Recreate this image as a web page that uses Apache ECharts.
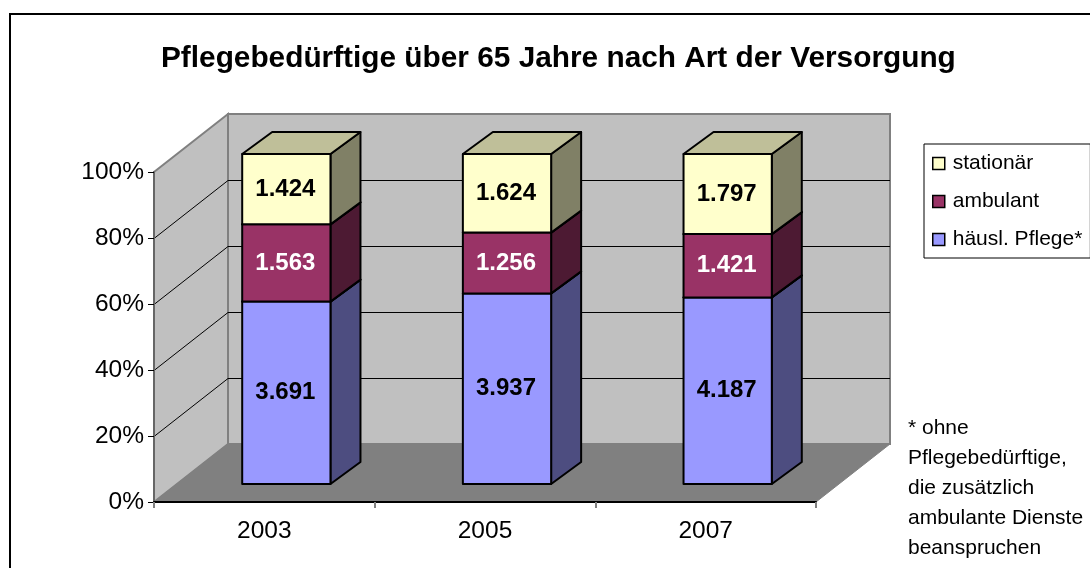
<!DOCTYPE html>
<html>
<head>
<meta charset="utf-8">
<style>
  html, body { margin: 0; padding: 0; background: #fff; }
  #chart { width: 1090px; height: 568px; }
</style>
<script src="https://cdn.jsdelivr.net/npm/echarts@6/dist/echarts.min.js"></script>
</head>
<body>
<div id="chart"></div>
<script>
const categories = ["2003", "2005", "2007"];
const haeuslPflege = [3691, 3937, 4187];
const ambulant = [1563, 1256, 1421];
const stationaer = [1424, 1624, 1797];
const yTicks = [0, 20, 40, 60, 80, 100];
const footnote = ["* ohne", "Pflegebedürftige,", "die zusätzlich", "ambulante Dienste", "beanspruchen"];

const FONT = "Liberation Sans";
// depth of the fake 3d box
const WALL_DX = 74, WALL_DY = -58;
const BAR_SHIFT_X = 22, BAR_SHIFT_Y = -18;
const BAR_DX = 30, BAR_DY = -22;

const totals = categories.map((c, i) => haeuslPflege[i] + ambulant[i] + stationaer[i]);

// [category index, start %, end %, raw value]
function stack(values, below) {
  return values.map((v, i) => {
    const base = below.reduce((s, arr) => s + arr[i], 0);
    return [i, base / totals[i] * 100, (base + v) / totals[i] * 100, v];
  });
}

function fmt(v) {
  return String(v).replace(/\B(?=(\d{3})+$)/g, ".");
}

function poly(points, fill) {
  return {
    type: "polygon",
    shape: { points },
    style: { fill, stroke: "#000", lineWidth: 2, lineJoin: "round" },
  };
}

function barSeries(name, data, colors, labelColor) {
  return {
    name,
    type: "custom",
    clip: false,
    z: 3,
    silent: true,
    data,
    encode: { x: 0, y: [1, 2] },
    itemStyle: { color: colors.front },
    renderItem(params, api) {
      const bw = api.size([1, 0])[0] * 0.4;
      const a = api.coord([api.value(0), api.value(1)]);
      const b = api.coord([api.value(0), api.value(2)]);
      const x0 = a[0] - bw / 2 + BAR_SHIFT_X;
      const x1 = x0 + bw;
      const y0 = a[1] + BAR_SHIFT_Y;
      const y1 = b[1] + BAR_SHIFT_Y;
      return {
        type: "group",
        children: [
          poly([[x1, y0], [x1 + BAR_DX, y0 + BAR_DY], [x1 + BAR_DX, y1 + BAR_DY], [x1, y1]], colors.side),
          poly([[x0, y1], [x1, y1], [x1 + BAR_DX, y1 + BAR_DY], [x0 + BAR_DX, y1 + BAR_DY]], colors.top),
          poly([[x0, y0], [x1, y0], [x1, y1], [x0, y1]], colors.front),
          {
            type: "text",
            style: {
              x: (x0 + x1) / 2 - 1,
              y: (y0 + y1) / 2,
              text: fmt(api.value(3)),
              fill: labelColor,
              font: "bold 24px '" + FONT + "'",
              align: "center",
              verticalAlign: "middle",
            },
          },
        ],
      };
    },
  };
}

const wallSeries = {
  type: "custom",
  clip: false,
  silent: true,
  z: 1,
  data: [[0, 0]],
  renderItem(params, api) {
    const band = api.size([1, 0])[0];
    const left = api.coord([0, 0])[0] - band / 2;
    const right = api.coord([categories.length - 1, 0])[0] + band / 2;
    const bottom = api.coord([0, 0])[1];
    const top = api.coord([0, 100])[1];
    const wallStyle = (fill) => ({ fill, stroke: "#808080", lineWidth: 2 });
    const children = [
      { type: "polygon", shape: { points: [[left, top], [left + WALL_DX, top + WALL_DY], [left + WALL_DX, bottom + WALL_DY], [left, bottom]] }, style: wallStyle("#c0c0c0") },
      { type: "polygon", shape: { points: [[left + WALL_DX, top + WALL_DY], [right + WALL_DX, top + WALL_DY], [right + WALL_DX, bottom + WALL_DY], [left + WALL_DX, bottom + WALL_DY]] }, style: wallStyle("#c0c0c0") },
      { type: "polygon", shape: { points: [[left, bottom], [left + WALL_DX, bottom + WALL_DY], [right + WALL_DX, bottom + WALL_DY], [right, bottom]] }, style: { fill: "#808080", stroke: "#808080", lineWidth: 1 } },
    ];
    yTicks.slice(1, -1).forEach((t) => {
      const y = api.coord([0, t])[1] + 0.5;
      children.push({
        type: "polyline",
        shape: { points: [[left, y], [left + WALL_DX, y + WALL_DY], [right + WALL_DX, y + WALL_DY]] },
        style: { fill: "none", stroke: "#000", lineWidth: 1 },
      });
    });
    return { type: "group", children };
  },
};

const chart = echarts.init(document.getElementById("chart"), null, { renderer: "canvas" });
chart.setOption({
  animation: false,
  backgroundColor: "#fff",
  textStyle: { fontFamily: FONT },
  title: {
    text: "Pflegebedürftige über 65 Jahre nach Art der Versorgung",
    left: 161,
    top: 44,
    padding: 0,
    textStyle: { fontFamily: FONT, fontSize: 29.8, fontWeight: "bold", color: "#000" },
  },
  grid: { left: 154, right: 274, top: 172, bottom: 66 },
  xAxis: {
    type: "category",
    data: categories,
    z: 10,
    axisLine: { lineStyle: { color: "#000", width: 2 } },
    axisTick: { show: true, alignWithLabel: false, length: 6, lineStyle: { color: "#808080", width: 2 } },
    axisLabel: { color: "#000", fontFamily: FONT, fontSize: 24.5, margin: 17 },
    splitLine: { show: false },
  },
  yAxis: {
    type: "value",
    min: 0,
    max: 100,
    interval: 20,
    z: 10,
    axisLine: { show: true, lineStyle: { color: "#666", width: 2 } },
    axisTick: { show: true, length: 6, lineStyle: { color: "#000", width: 1 } },
    axisLabel: { color: "#000", fontFamily: FONT, fontSize: 24.5, margin: 10, formatter: "{value}%" },
    splitLine: { show: false },
  },
  legend: {
    left: 924,
    top: 144,
    orient: "vertical",
    align: "left",
    padding: [9, 8, 8, 8],
    itemWidth: 12,
    itemHeight: 12,
    itemGap: 17,
    borderColor: "#000",
    borderWidth: 1,
    selectedMode: false,
    textStyle: { color: "#000", fontFamily: FONT, fontSize: 21, padding: [0, 0, 0, 3] },
    data: [
      { name: "stationär", icon: "rect", itemStyle: { color: "#ffffcc", borderColor: "#000", borderWidth: 1.5 } },
      { name: "ambulant", icon: "rect", itemStyle: { color: "#993366", borderColor: "#000", borderWidth: 1.5 } },
      { name: "häusl. Pflege*", icon: "rect", itemStyle: { color: "#9999ff", borderColor: "#000", borderWidth: 1.5 } },
    ],
  },
  graphic: [
    {
      type: "rect",
      shape: { x: 10, y: 14, width: 1120, height: 600 },
      style: { fill: "none", stroke: "#000", lineWidth: 2 },
      z: 100,
    },
    {
      type: "text",
      left: 908,
      top: 413,
      z: 100,
      style: {
        text: footnote.join("\n"),
        fill: "#000",
        font: "21px '" + FONT + "'",
        lineHeight: 30,
      },
    },
  ],
  series: [
    wallSeries,
    barSeries("häusl. Pflege*", stack(haeuslPflege, []), { front: "#9999ff", side: "#4d4d80", top: "#7373bf" }, "#000"),
    barSeries("ambulant", stack(ambulant, [haeuslPflege]), { front: "#993366", side: "#4d1a33", top: "#73264d" }, "#fff"),
    barSeries("stationär", stack(stationaer, [haeuslPflege, ambulant]), { front: "#ffffcc", side: "#808066", top: "#bfbf99" }, "#000"),
  ],
});
</script>
</body>
</html>
